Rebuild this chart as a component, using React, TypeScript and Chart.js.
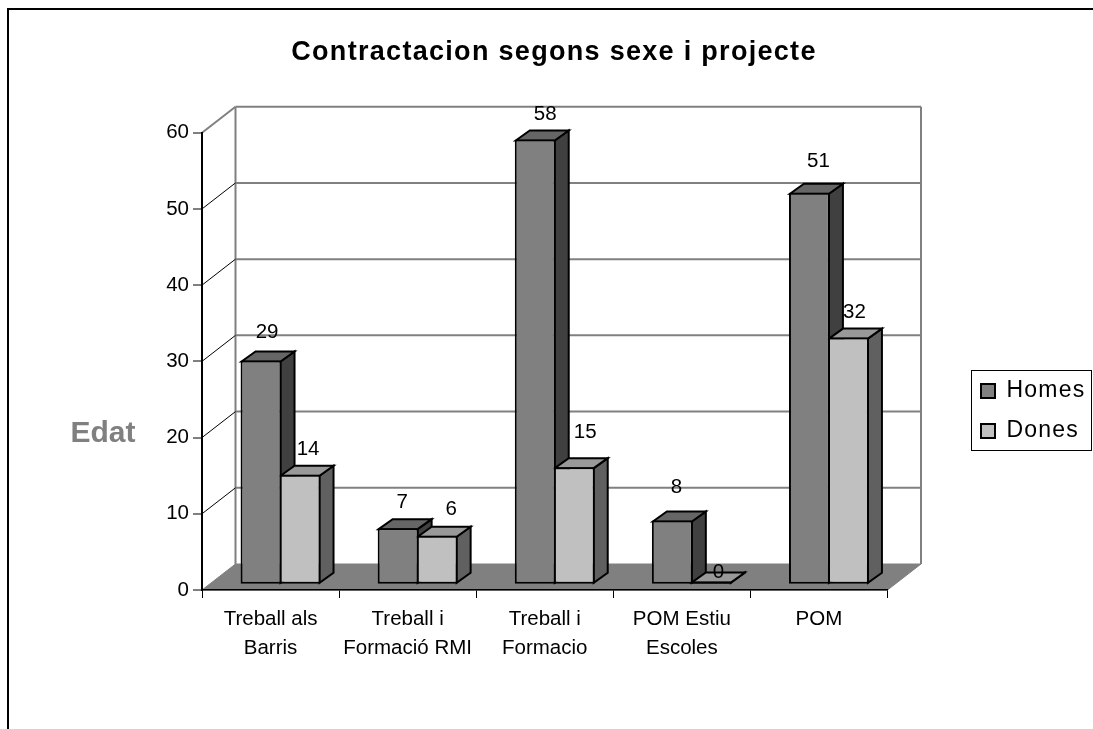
import React, { useEffect, useRef } from "react";
import { Chart, registerables } from "chart.js";

Chart.register(...registerables);

const categories = [
  ["Treball als", "Barris"],
  ["Treball i", "Formació RMI"],
  ["Treball i", "Formacio"],
  ["POM Estiu", "Escoles"],
  ["POM"],
];
const homes = [29, 7, 58, 8, 51];
const dones = [14, 6, 15, 0, 32];
const yTicks = { min: 0, max: 60, stepSize: 10 };

const FONT = "'Liberation Sans', Arial, sans-serif";
const WALL = { dx: 33.5, dy: -26 };
const BAR_SHIFT = { dx: 10, dy: -8.5 };
const BAR_DEPTH = { dx: 14, dy: -10 };
const FACES = [
  { top: "#666666", side: "#404040" },
  { top: "#999999", side: "#606060" },
];
const LABEL_NUDGE = [
  [[6, -28.5], [4, -25.5], [10, -25.5], [4, -33.5], [9, -31.5]],
  [[8, -25.5], [14, -26.5], [11, -34.5], [7, -9.5], [6, -25.5]],
];

function poly(ctx: CanvasRenderingContext2D, pts: number[][], fill: string | null, stroke: string | null, lw = 1) {
  ctx.beginPath();
  pts.forEach((p, i) => (i ? ctx.lineTo(p[0], p[1]) : ctx.moveTo(p[0], p[1])));
  if (fill) {
    ctx.closePath();
    ctx.fillStyle = fill;
    ctx.fill();
  }
  if (stroke) {
    ctx.strokeStyle = stroke;
    ctx.lineWidth = lw;
    ctx.stroke();
  }
}

function spaced(box: any, ctx: CanvasRenderingContext2D, spacing: string) {
  if (box.__spaced) return;
  const orig = box.draw.bind(box);
  box.draw = (...a: any[]) => {
    (ctx as any).letterSpacing = spacing;
    orig(...a);
    (ctx as any).letterSpacing = "0px";
  };
  box.__spaced = true;
}

const chart3d = {
  id: "chart3d",
  afterLayout(chart: any) {
    const t = chart.titleBlock;
    if (t) {
      t.left = 254;
      t.right = 854;
      spaced(t, chart.ctx, "1.3px");
    }
    const l = chart.legend;
    if (l) {
      l.left = 964;
      l.right = 1093;
      l.top = 362.5;
      l.bottom = 480;
      spaced(l, chart.ctx, "1.2px");
    }
  },
  beforeDraw(chart: any) {
    const ctx: CanvasRenderingContext2D = chart.ctx;
    const { left, right, bottom } = chart.chartArea;
    const y = chart.scales.y;
    ctx.save();
    ctx.fillStyle = "#ffffff";
    ctx.fillRect(0, 0, chart.width, chart.height);
    // frame
    poly(ctx, [[8, 729], [8, 9], [1093, 9]], null, "#000000", 2);
    // floor
    poly(ctx, [[left, bottom], [right, bottom], [right + WALL.dx, bottom + WALL.dy], [left + WALL.dx, bottom + WALL.dy]], "#808080", "#808080", 1);
    // walls and gridlines
    const bl = left + WALL.dx;
    const br = right + WALL.dx;
    const wallTop = y.getPixelForValue(yTicks.max) + WALL.dy;
    const wallBottom = bottom + WALL.dy;
    poly(ctx, [[bl, wallBottom], [bl, wallTop]], null, "#808080", 2);
    poly(ctx, [[br, wallBottom], [br, wallTop]], null, "#808080", 2);
    y.ticks.forEach((tk: any) => {
      const py = y.getPixelForValue(tk.value);
      if (tk.value > 0) poly(ctx, [[bl, py + WALL.dy], [br, py + WALL.dy]], null, "#808080", 2);
      const isTop = tk.value === yTicks.max;
      if (tk.value > 0) poly(ctx, [[left, py], [bl, py + WALL.dy]], null, isTop ? "#808080" : "#000000", isTop ? 2 : 1);
    });
    // legend box
    ctx.strokeStyle = "#000000";
    ctx.lineWidth = 1;
    ctx.strokeRect(971.5, 370.5, 120, 80);
    ctx.restore();
  },
  beforeDatasetsDraw(chart: any) {
    const ctx: CanvasRenderingContext2D = chart.ctx;
    ctx.save();
    ctx.translate(BAR_SHIFT.dx, BAR_SHIFT.dy);
    [0, 1].forEach((d) => {
      chart.getDatasetMeta(d).data.forEach((el: any) => {
        const p = el.getProps(["x", "y", "base", "width"], true);
        const L = p.x - p.width / 2 + 1;
        const R = p.x + p.width / 2 - 1;
        const T = p.y + 1;
        const B = p.base - 1;
        const top = Math.min(T, B);
        ctx.lineJoin = "miter";
        poly(ctx, [[R, top], [R + BAR_DEPTH.dx, top + BAR_DEPTH.dy], [R + BAR_DEPTH.dx, B + BAR_DEPTH.dy], [R, B]], FACES[d].side, "#000000", 2);
        poly(ctx, [[L, top], [L + BAR_DEPTH.dx, top + BAR_DEPTH.dy], [R + BAR_DEPTH.dx, top + BAR_DEPTH.dy], [R, top]], FACES[d].top, "#000000", 2);
      });
    });
  },
  afterDatasetsDraw(chart: any) {
    const ctx: CanvasRenderingContext2D = chart.ctx;
    ctx.restore();
    ctx.save();
    ctx.font = `20.5px ${FONT}`;
    ctx.fillStyle = "#000000";
    ctx.textAlign = "center";
    ctx.textBaseline = "middle";
    [0, 1].forEach((d) => {
      chart.getDatasetMeta(d).data.forEach((el: any, i: number) => {
        const p = el.getProps(["x", "y"], true);
        const n = LABEL_NUDGE[d][i];
        ctx.fillText(String(chart.data.datasets[d].data[i]), p.x + BAR_SHIFT.dx + n[0], p.y + BAR_SHIFT.dy + n[1]);
      });
    });
    // value axis caption
    ctx.font = `bold 30px ${FONT}`;
    ctx.fillStyle = "#808080";
    ctx.fillText("Edat", 103, 434);
    ctx.restore();
  },
};

export default function App() {
  const ref = useRef<HTMLCanvasElement>(null);
  useEffect(() => {
    const barOpts = { borderColor: "#000000", borderWidth: 2, borderSkipped: false, barPercentage: 1.05, categoryPercentage: 0.569, clip: false, base: -0.29 };
    const chart = new Chart(ref.current!, {
      type: "bar",
      data: {
        labels: categories,
        datasets: [
          { label: "Homes", data: homes, backgroundColor: "#808080", ...barOpts },
          { label: "Dones", data: dones, backgroundColor: "#C0C0C0", ...barOpts },
        ],
      } as any,
      plugins: [chart3d],
      options: {
        responsive: false,
        animation: false,
        events: [],
        layout: { padding: { left: 8, right: 205.5, top: 0, bottom: 59 } },
        plugins: {
          tooltip: { enabled: false },
          title: {
            display: true,
            text: "Contractacion segons sexe i projecte",
            color: "#000000",
            font: { family: FONT, size: 27, weight: "bold", lineHeight: 1.2 },
            padding: { top: 36, bottom: 64.3 },
          },
          legend: {
            position: "chartArea",
            align: "start",
            labels: {
              color: "#000000",
              font: { family: FONT, size: 23 },
              boxWidth: 14,
              boxHeight: 14,
              padding: 17,
            },
          },
        },
        scales: {
          x: {
            grid: { drawOnChartArea: false, drawTicks: true, tickLength: 8, color: "#000000", lineWidth: 1 },
            border: { color: "#000000", width: 1.5 },
            ticks: { color: "#000000", font: { family: FONT, size: 20.5, lineHeight: 1.41 }, padding: 7, maxRotation: 0, autoSkip: false },
            afterFit: (s: any) => { s.height = 80; },
          },
          y: {
            min: yTicks.min,
            max: yTicks.max,
            ticks: { stepSize: yTicks.stepSize, color: "#000000", font: { family: FONT, size: 20.5 }, padding: 4 },
            grid: { drawOnChartArea: false, drawTicks: true, tickLength: 9, color: "#808080", lineWidth: 2 },
            border: { color: "#000000", width: 2 },
            afterFit: (s: any) => { s.width = 194; },
          },
        },
      },
    } as any);
    return () => chart.destroy();
  }, []);
  return (
    <div style={{ position: "absolute", left: 0, top: 0, width: 1093, height: 729 }}>
      <canvas ref={ref} width={1093} height={729} style={{ display: "block" }} />
    </div>
  );
}
